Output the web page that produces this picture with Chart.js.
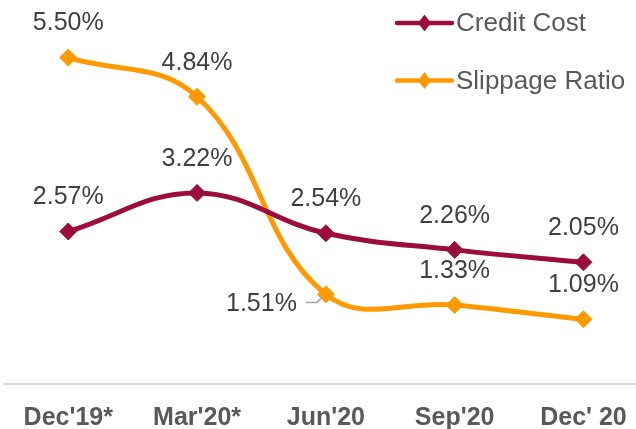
<!DOCTYPE html>
<html>
<head>
<meta charset="utf-8">
<script src="https://cdn.jsdelivr.net/npm/chart.js@4/dist/chart.umd.min.js"></script>
<style>
html,body{margin:0;padding:0;background:#fff;}
canvas{display:block;}
</style>
</head>
<body>
<canvas id="c" width="636" height="429"></canvas>
<script>
const categories = ["Dec'19*", "Mar'20*", "Jun'20", "Sep'20", "Dec' 20"];
const creditCost = [2.57, 3.22, 2.54, 2.26, 2.05];
const slippageRatio = [5.50, 4.84, 1.51, 1.33, 1.09];
const seriesNames = ["Credit Cost", "Slippage Ratio"];

const FONT = "'Liberation Sans', Arial, sans-serif";
const COLORS = ['#9B0D3A', '#FF9900'];

const dataLabelPlugin = {
  id: 'dataLabels',
  afterDatasetsDraw(chart) {
    const ctx = chart.ctx;
    ctx.save();
    ctx.font = '25px ' + FONT;
    ctx.fillStyle = '#404040';
    ctx.textBaseline = 'middle';
    chart.data.datasets.forEach((ds, di) => {
      const meta = chart.getDatasetMeta(di);
      meta.data.forEach((pt, i) => {
        const txt = ds.data[i].y.toFixed(2) + '%';
        if (di === 1 && i === 2) {
          ctx.textAlign = 'right';
          ctx.fillText(txt, pt.x - 29, pt.y + 10);
          ctx.save();
          ctx.strokeStyle = '#A6A6A6';
          ctx.lineWidth = 1.5;
          ctx.beginPath();
          ctx.moveTo(pt.x - 20, pt.y + 8);
          ctx.lineTo(pt.x - 9, pt.y + 8);
          ctx.lineTo(pt.x - 3, pt.y + 2);
          ctx.stroke();
          ctx.restore();
        } else {
          ctx.textAlign = 'center';
          ctx.fillText(txt, pt.x, pt.y - 34);
        }
      });
    });
    ctx.restore();
  }
};

const legendPlugin = {
  id: 'customLegend',
  afterDraw(chart) {
    const ctx = chart.ctx;
    ctx.save();
    chart.data.datasets.forEach((ds, di) => {
      const y = 23 + di * 57.5;
      const x0 = 397, x1 = 452, xm = 424.5;
      ctx.strokeStyle = ds.borderColor;
      ctx.lineWidth = 4.5;
      ctx.lineCap = 'round';
      ctx.beginPath();
      ctx.moveTo(x0, y);
      ctx.lineTo(x1, y);
      ctx.stroke();
      ctx.fillStyle = ds.borderColor;
      ctx.beginPath();
      ctx.moveTo(xm - 6.5, y);
      ctx.lineTo(xm, y - 8.5);
      ctx.lineTo(xm + 6.5, y);
      ctx.lineTo(xm, y + 8.5);
      ctx.closePath();
      ctx.fill();
      ctx.fillStyle = '#595959';
      ctx.font = '26px ' + FONT;
      ctx.textAlign = 'left';
      ctx.textBaseline = 'middle';
      ctx.fillText(ds.label, 456, y + 1);
    });
    ctx.restore();
  }
};

const toXY = arr => arr.map((v, i) => ({x: i, y: v}));

new Chart(document.getElementById('c'), {
  type: 'line',
  data: {
    datasets: [
      {
        label: seriesNames[0],
        data: toXY(creditCost),
        borderColor: COLORS[0],
        backgroundColor: COLORS[0],
        borderWidth: 5,
        pointStyle: 'rectRot',
        pointRadius: 8.5,
        pointBorderWidth: 1,
        pointBackgroundColor: COLORS[0],
        pointBorderColor: COLORS[0],
        tension: 0.4,
        clip: false
      },
      {
        label: seriesNames[1],
        data: toXY(slippageRatio),
        borderColor: COLORS[1],
        backgroundColor: COLORS[1],
        borderWidth: 5,
        pointStyle: 'rectRot',
        pointRadius: 8.5,
        pointBorderWidth: 1,
        pointBackgroundColor: COLORS[1],
        pointBorderColor: COLORS[1],
        tension: 0.4,
        clip: false
      }
    ]
  },
  options: {
    responsive: false,
    animation: false,
    parsing: {xAxisKey: 'x', yAxisKey: 'y'},
    layout: {autoPadding: false, padding: {left: 4, right: 0, top: 0, bottom: 0}},
    plugins: {legend: {display: false}, tooltip: {enabled: false}},
    scales: {
      x: {
        type: 'linear',
        min: -0.499,
        max: 4.408,
        afterBuildTicks: (scale) => {
          scale.ticks = categories.map((c, i) => ({value: i}));
        },
        afterFit: (scale) => {
          scale.paddingLeft = 0;
          scale.paddingRight = 0;
          scale.height = 45;
        },
        grid: {display: false, drawTicks: false},
        border: {display: true, color: '#D9D9D9', width: 2},
        ticks: {
          autoSkip: false,
          maxRotation: 0,
          padding: 19,
          color: '#595959',
          font: {family: FONT, size: 25, weight: 'bold'},
          callback: (v) => categories[v] !== undefined ? categories[v] : ''
        }
      },
      y: {
        display: false,
        min: 0,
        max: 6.47
      }
    }
  },
  plugins: [dataLabelPlugin, legendPlugin]
});
</script>
</body>
</html>
